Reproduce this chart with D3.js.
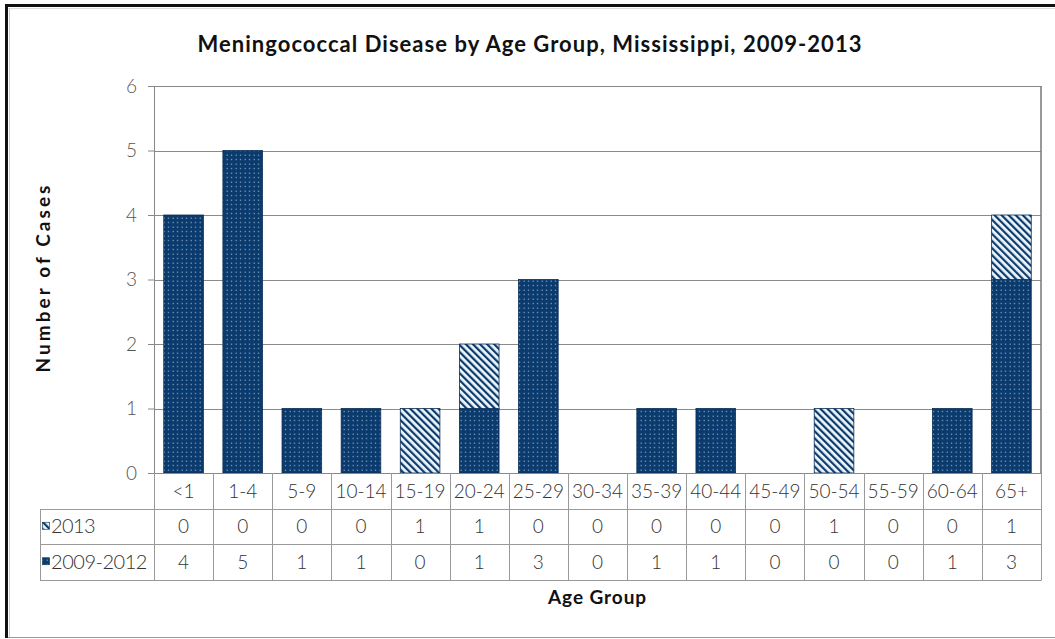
<!DOCTYPE html>
<html>
<head>
<meta charset="utf-8">
<script src="https://cdn.jsdelivr.net/npm/d3@7"></script>
<style>
  html, body { margin: 0; padding: 0; background: #fff; }
  svg { display: block; }
  text { font-family: "Lato", "Open Sans", "DejaVu Sans", sans-serif; }
</style>
</head>
<body>
<svg id="chart" width="1055" height="639"></svg>
<script>
// ---- data ----
const categories = ["<1","1-4","5-9","10-14","15-19","20-24","25-29","30-34","35-39","40-44","45-49","50-54","55-59","60-64","65+"];
const series2013 = [0,0,0,0,1,1,0,0,0,0,0,1,0,0,1];
const series20092012 = [4,5,1,1,0,1,3,0,1,1,0,0,0,1,3];
const yTicks = [0,1,2,3,4,5,6];
const seriesNames = ["2013","2009-2012"];
const titleText = "Meningococcal Disease by Age Group, Mississippi, 2009-2013";

// ---- layout ----
const W = 1055, H = 639;
const plot = { left: 154, right: 1041, top: 86, bottom: 473 };
const rowH = 35.5;
const tableLeft = 40;
const navy = "#0b3a6d";

const svg = d3.select("#chart");
const defs = svg.append("defs");

// dotted pattern
const pd = defs.append("pattern").attr("id", "dots").attr("patternUnits", "userSpaceOnUse")
  .attr("width", 4.5).attr("height", 4.5);
pd.append("rect").attr("width", 4.5).attr("height", 4.5).attr("fill", navy);
pd.append("rect").attr("x", 1.6).attr("y", 1.6).attr("width", 1.1).attr("height", 1.1).attr("fill", "#a9c3de");

// diagonal stripes pattern "\\"
const ps = defs.append("pattern").attr("id", "stripes").attr("patternUnits", "userSpaceOnUse")
  .attr("width", 5).attr("height", 5).attr("patternTransform", "rotate(-45)");
ps.append("rect").attr("width", 5).attr("height", 5).attr("fill", "#eef6fc");
ps.append("rect").attr("width", 2.2).attr("height", 5).attr("fill", navy);

// outer frame
svg.append("path").attr("d", `M6.5,${H - 1} V5.5 H${W}`)
  .attr("fill", "none").attr("stroke", "#111").attr("stroke-width", 3);
svg.append("line").attr("x1", 8).attr("x2", W).attr("y1", H - 1.5).attr("y2", H - 1.5)
  .attr("stroke", "#999").attr("stroke-width", 1);
svg.append("line").attr("x1", 9.5).attr("x2", 9.5).attr("y1", 8).attr("y2", H - 2)
  .attr("stroke", "#ccc").attr("stroke-width", 1);
svg.append("line").attr("x1", 8).attr("x2", W).attr("y1", 8.5).attr("y2", 8.5)
  .attr("stroke", "#ddd").attr("stroke-width", 1);

function spread(sel, target) {
  const len = sel.node().getComputedTextLength();
  const n = sel.text().length;
  sel.attr("letter-spacing", (target - len) / n);
}

// scales
const x = d3.scaleBand().domain(categories).range([plot.left, plot.right])
  .paddingInner(0.33).paddingOuter(0.165);
const xCell = d3.scaleBand().domain(categories).range([plot.left, plot.right]).padding(0);
const y = d3.scaleLinear().domain([0, 6]).range([plot.bottom, plot.top]);

// gridlines
svg.append("g").selectAll("line").data(yTicks.filter(d => d > 0)).join("line")
  .attr("x1", plot.left).attr("x2", plot.right)
  .attr("y1", d => Math.round(y(d)) + 0.5).attr("y2", d => Math.round(y(d)) + 0.5)
  .attr("stroke", "#8a8a8a").attr("stroke-width", 1);

// y axis
const yAxis = svg.append("g").attr("transform", `translate(${plot.left},0)`)
  .call(d3.axisLeft(y).tickValues(yTicks).tickFormat(d3.format("d")).tickSize(6).tickPadding(11));
yAxis.select(".domain").attr("stroke", "#888");
yAxis.selectAll(".tick line").attr("stroke", "#888");
yAxis.selectAll(".tick text").attr("font-size", 19).attr("fill", "#555")
  .attr("font-family", "Lato, 'Open Sans', sans-serif").attr("font-weight", 300);

// right border of plot
svg.append("line").attr("x1", plot.right).attr("x2", plot.right).attr("y1", plot.top).attr("y2", plot.bottom)
  .attr("stroke", "#777").attr("stroke-width", 1.5);

// stacked bars
const rows = categories.map((c, i) => ({ cat: c, "2009-2012": series20092012[i], "2013": series2013[i] }));
const stack = d3.stack().keys(["2009-2012", "2013"])(rows);
const fills = { "2009-2012": "url(#dots)", "2013": "url(#stripes)" };
svg.append("g").selectAll("g").data(stack).join("g")
  .attr("fill", d => fills[d.key])
  .selectAll("rect").data(d => d.filter(s => s[1] - s[0] > 0)).join("rect")
  .attr("x", d => x(d.data.cat)).attr("width", x.bandwidth())
  .attr("y", d => y(d[1])).attr("height", d => y(d[0]) - y(d[1]))
  .attr("stroke", "#0a2d55").attr("stroke-width", 0.8);

// data table
const tbl = svg.append("g");
const tTop = plot.bottom;
const lineC = "#9a9a9a";
tbl.append("line").attr("x1", plot.left).attr("x2", plot.right).attr("y1", tTop + 0.5).attr("y2", tTop + 0.5).attr("stroke", "#888");
[1, 2, 3].forEach(r => {
  tbl.append("line").attr("x1", tableLeft).attr("x2", plot.right)
    .attr("y1", Math.round(tTop + r * rowH) + 0.5).attr("y2", Math.round(tTop + r * rowH) + 0.5)
    .attr("stroke", lineC);
});
const vx = categories.map(c => xCell(c)).concat([plot.right]);
tbl.selectAll("line.v").data(vx).join("line").attr("class", "v")
  .attr("x1", d => Math.round(d) + 0.5).attr("x2", d => Math.round(d) + 0.5)
  .attr("y1", tTop).attr("y2", Math.round(tTop + 3 * rowH) + 0.5).attr("stroke", lineC);
tbl.append("line").attr("x1", tableLeft + 0.5).attr("x2", tableLeft + 0.5)
  .attr("y1", Math.round(tTop + rowH)).attr("y2", Math.round(tTop + 3 * rowH) + 0.5).attr("stroke", lineC);

const cellFont = 19;
tbl.selectAll("text.cat").data(categories).join("text").attr("class", "cat")
  .attr("x", d => xCell(d) + xCell.bandwidth() / 2).attr("y", tTop + rowH / 2)
  .attr("dy", "0.36em").attr("text-anchor", "middle")
  .attr("font-size", cellFont).attr("font-weight", 300).attr("fill", "#333").text(d => d);

const tableSeries = [series2013, series20092012];
tableSeries.forEach((vals, r) => {
  const cy = tTop + (r + 1.5) * rowH;
  tbl.append("g").selectAll("text").data(vals).join("text")
    .attr("x", (d, i) => xCell(categories[i]) + xCell.bandwidth() / 2).attr("y", cy)
    .attr("dy", "0.36em").attr("text-anchor", "middle")
    .attr("font-size", cellFont).attr("font-weight", 300).attr("fill", "#333").text(d => d);
  tbl.append("rect").attr("x", 42.5).attr("y", cy - 4).attr("width", 7).attr("height", 7)
    .attr("fill", r === 0 ? "url(#stripes)" : "url(#dots)").attr("stroke", "#0a2d55").attr("stroke-width", 0.6);
  const lab = tbl.append("text").attr("x", 51).attr("y", cy).attr("dy", "0.36em")
    .attr("font-size", 20).attr("font-weight", 300).attr("fill", "#333").text(seriesNames[r]);
  spread(lab, r === 1 ? 96 : 44);
});

// title
const title = svg.append("text").attr("x", 530).attr("y", 52).attr("text-anchor", "middle")
  .attr("font-size", 22).attr("font-weight", "bold").attr("fill", "#111").text(titleText);
spread(title, 665);

// y axis title
const yt = svg.append("text").attr("transform", `translate(50,${(plot.top + plot.bottom) / 2 - 2}) rotate(-90)`)
  .attr("text-anchor", "middle").attr("font-size", 19).attr("font-weight", "bold").attr("fill", "#111")
  .text("Number of Cases");
spread(yt, 190);

// x axis title
const xt = svg.append("text").attr("x", (plot.left + plot.right) / 2).attr("y", 604).attr("text-anchor", "middle")
  .attr("font-size", 19).attr("font-weight", "bold").attr("fill", "#111").text("Age Group");
spread(xt, 99);
</script>
</body>
</html>
